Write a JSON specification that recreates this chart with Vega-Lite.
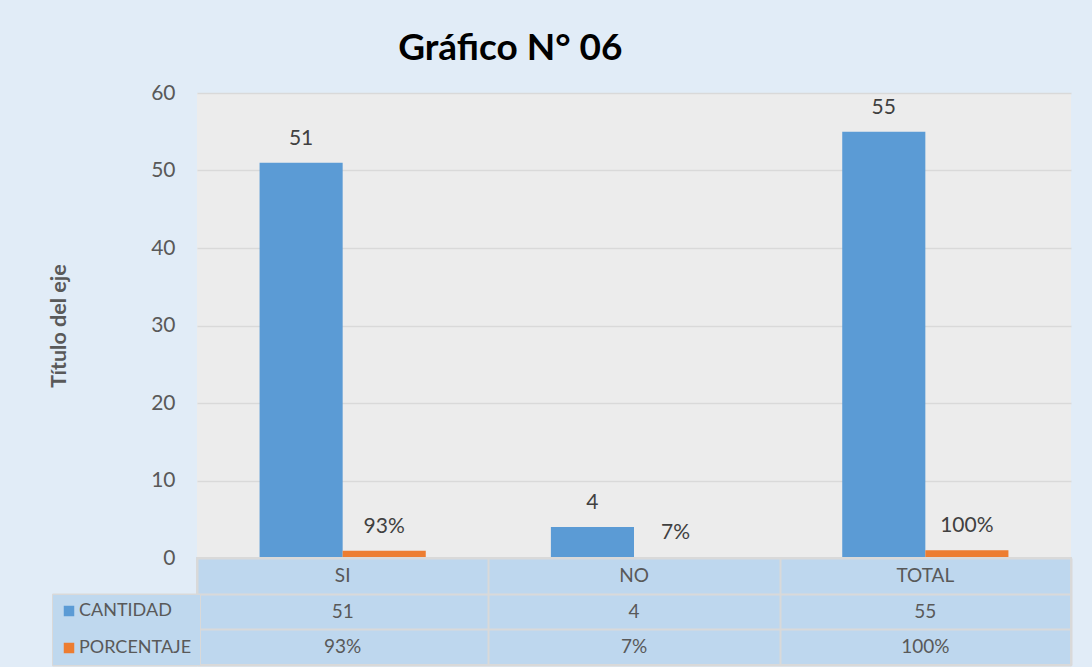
{
  "$schema": "https://vega.github.io/schema/vega-lite/v6.json",
  "background": "#e1ecf7",
  "padding": {"left": 48, "top": 30, "right": 21, "bottom": 2},
  "bounds": "flush",
  "spacing": 0,
  "title": {
    "text": "Gráfico N° 06",
    "fontSize": 37,
    "font": "Lato",
    "fontWeight": "bold",
    "color": "#000000",
    "anchor": "middle",
    "dx": -50,
    "offset": 14
  },
  "datasets": {
    "barras": [
      {"categoria": "SI", "serie": "CANTIDAD", "valor": 51, "etiqueta": "51"},
      {"categoria": "SI", "serie": "PORCENTAJE", "valor": 0.93, "etiqueta": "93%"},
      {"categoria": "NO", "serie": "CANTIDAD", "valor": 4, "etiqueta": "4"},
      {"categoria": "NO", "serie": "PORCENTAJE", "valor": 0.07, "etiqueta": "7%"},
      {"categoria": "TOTAL", "serie": "CANTIDAD", "valor": 55, "etiqueta": "55"},
      {"categoria": "TOTAL", "serie": "PORCENTAJE", "valor": 1, "etiqueta": "100%"}
    ],
    "tabla": [
      {"categoria": "SI", "fila": "hdr", "texto": "SI"},
      {"categoria": "NO", "fila": "hdr", "texto": "NO"},
      {"categoria": "TOTAL", "fila": "hdr", "texto": "TOTAL"},
      {"categoria": "SI", "fila": "CANTIDAD", "texto": "51"},
      {"categoria": "NO", "fila": "CANTIDAD", "texto": "4"},
      {"categoria": "TOTAL", "fila": "CANTIDAD", "texto": "55"},
      {"categoria": "SI", "fila": "PORCENTAJE", "texto": "93%"},
      {"categoria": "NO", "fila": "PORCENTAJE", "texto": "7%"},
      {"categoria": "TOTAL", "fila": "PORCENTAJE", "texto": "100%"}
    ]
  },
  "vconcat": [
    {
      "width": 874,
      "height": 465,
      "data": {"name": "barras"},
      "view": {"fill": "#ececec", "stroke": null},
      "encoding": {
        "x": {
          "field": "categoria",
          "type": "nominal",
          "sort": ["SI", "NO", "TOTAL"],
          "axis": null,
          "scale": {"paddingInner": 0, "paddingOuter": 0}
        },
        "xOffset": {
          "field": "serie",
          "type": "nominal",
          "sort": ["CANTIDAD", "PORCENTAJE"],
          "scale": {"paddingInner": 0, "paddingOuter": 0.753}
        },
        "y": {
          "field": "valor",
          "type": "quantitative",
          "scale": {"domain": [0, 60], "nice": false},
          "axis": {
            "title": "Título del eje",
            "values": [0, 10, 20, 30, 40, 50, 60],
            "domain": false,
            "ticks": false,
            "grid": true,
            "gridColor": "#d9d9d9",
            "gridWidth": 1.5,
            "labelFontSize": 21,
            "labelColor": "#595959",
            "labelPadding": 22,
            "titleFontSize": 21.5,
            "titleFontWeight": "bold",
            "titleColor": "#595959",
            "titlePadding": 80
          }
        }
      },
      "layer": [
        {
          "mark": {"type": "bar"},
          "encoding": {
            "color": {
              "field": "serie",
              "type": "nominal",
              "scale": {"domain": ["CANTIDAD", "PORCENTAJE"], "range": ["#5b9bd5", "#ed7d31"]},
              "legend": {
                "title": null,
                "orient": "none",
                "legendX": -145,
                "legendY": 501,
                "direction": "vertical",
                "symbolType": "square",
                "symbolSize": 110,
                "symbolStrokeWidth": 0,
                "labelFontSize": 18,
                "labelColor": "#595959",
                "labelOffset": 1,
                "rowPadding": 19,
                "padding": 8,
                "strokeColor": "#d9d9d9",
                "fillColor": "#bfd8ee"
              }
            }
          }
        },
        {
          "mark": {"type": "text", "baseline": "bottom", "dy": -14, "fontSize": 21, "color": "#404040"},
          "encoding": {"text": {"field": "etiqueta"}}
        }
      ]
    },
    {
      "width": 874,
      "height": 107,
      "data": {"name": "tabla"},
      "view": {"fill": "#bed7ee", "stroke": "#d9d9d9", "strokeWidth": 2},
      "mark": {"type": "text", "fontSize": 19, "color": "#595959"},
      "encoding": {
        "x": {
          "field": "categoria",
          "type": "nominal",
          "sort": ["SI", "NO", "TOTAL"],
          "scale": {"paddingInner": 0, "paddingOuter": 0},
          "axis": {
            "title": null,
            "labels": false,
            "ticks": false,
            "domain": false,
            "grid": true,
            "tickBand": "extent",
            "gridColor": "#d9d9d9",
            "gridWidth": 2
          }
        },
        "y": {
          "field": "fila",
          "type": "nominal",
          "sort": ["hdr", "CANTIDAD", "PORCENTAJE"],
          "scale": {"paddingInner": 0, "paddingOuter": 0},
          "axis": {
            "title": null,
            "labels": false,
            "domain": false,
            "grid": true,
            "tickBand": "extent",
            "gridColor": "#d9d9d9",
            "gridWidth": 2,
            "ticks": true,
            "tickSize": 145,
            "tickWidth": 2,
            "tickColor": {
              "condition": {"test": "datum.value == null", "value": "transparent"},
              "value": "#d9d9d9"
            }
          }
        },
        "text": {"field": "texto"}
      }
    }
  ],
  "config": {
    "font": "Lato"
  }
}
